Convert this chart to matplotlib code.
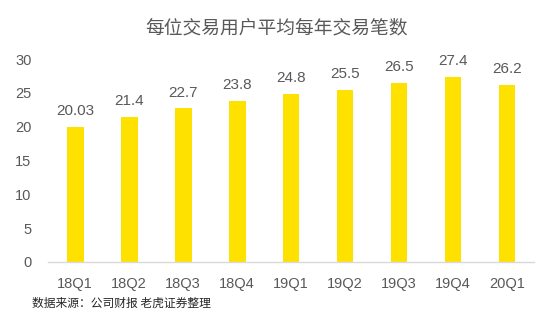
import matplotlib
matplotlib.use("Agg")
import matplotlib.pyplot as plt

plt.rcParams["font.family"] = ["Noto Sans CJK SC", "DejaVu Sans"]

quarters = ["18Q1", "18Q2", "18Q3", "18Q4", "19Q1", "19Q2", "19Q3", "19Q4", "20Q1"]
values = [20.03, 21.4, 22.7, 23.8, 24.8, 25.5, 26.5, 27.4, 26.2]
labels = ["20.03", "21.4", "22.7", "23.8", "24.8", "25.5", "26.5", "27.4", "26.2"]
yticks = [0, 5, 10, 15, 20, 25, 30]

text_color = "#595959"
num_font = ["Liberation Sans", "DejaVu Sans"]

fig = plt.figure(figsize=(5.54, 3.23), dpi=100)
ax = fig.add_axes([0.087, 0.189, 0.877, 0.628])

x = range(len(quarters))
ax.bar(x, values, width=0.31, color="#FFE100")

for i, (v, lab) in enumerate(zip(values, labels)):
    ax.text(i, v + 1.3, lab, ha="center", va="bottom", fontsize=11,
            color=text_color, family=num_font, clip_on=False)

ax.set_xlim(-0.5, len(quarters) - 0.5)
ax.set_ylim(0, 30)
ax.set_yticks(yticks)
ax.set_xticks(list(x))
ax.set_xticklabels(quarters)
ax.tick_params(axis="both", length=0, labelsize=10.5, colors=text_color)
ax.tick_params(axis="x", pad=11)
ax.tick_params(axis="y", pad=12)
for t in ax.get_xticklabels() + ax.get_yticklabels():
    t.set_family(num_font)

for side in ["top", "right", "left"]:
    ax.spines[side].set_visible(False)
ax.spines["bottom"].set_color("#D9D9D9")
ax.spines["bottom"].set_linewidth(1)

fig.text(0.5, 0.915, "每位交易用户平均每年交易笔数", ha="center", va="center",
         fontsize=13.5, color=text_color)
fig.text(0.058, 0.062, "数据来源：公司财报 老虎证券整理", ha="left", va="center",
         fontsize=8.5, color="#262626")

fig.savefig("out.png", dpi=100)
